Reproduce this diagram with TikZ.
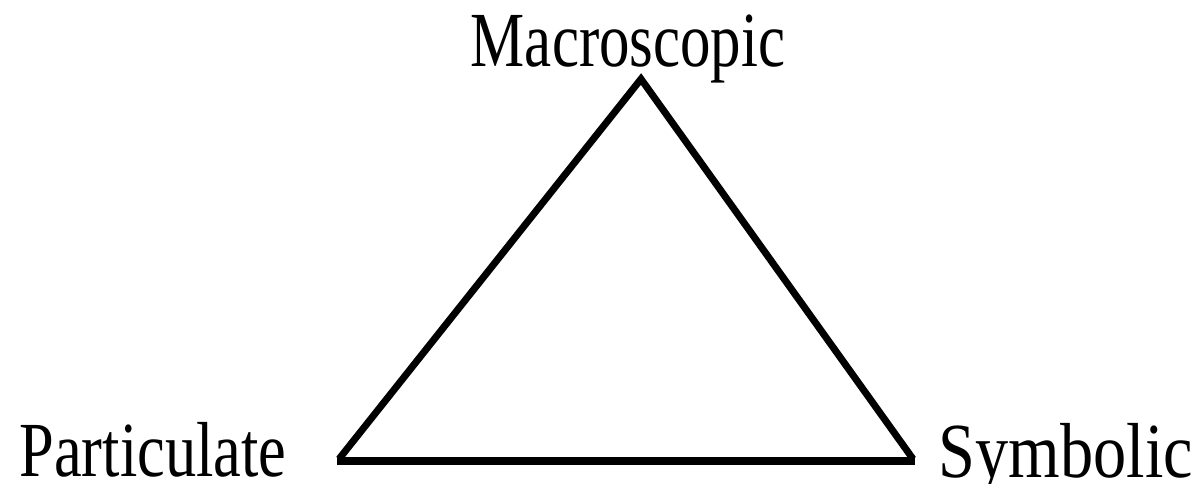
\documentclass[tikz,border=0pt]{standalone}
\usepackage{fontspec}
\setmainfont{Liberation Serif}
\begin{document}
\begin{tikzpicture}[x=1pt,y=-1pt,
  lbl/.style={anchor=base, inner sep=0pt, font=\fontsize{78}{94}\selectfont},
  side/.style={line width=7pt, miter limit=10},
  base/.style={line width=8pt}]
\useasboundingbox (0,0) rectangle (1191,484);
\coordinate (M) at (641,79);
\coordinate (P) at (339,459);
\coordinate (S) at (913,459);
\coordinate (Pb) at (337,461);
\coordinate (Sb) at (915,461);
\draw[side] (P) -- (M) -- (S);
\draw[base] (Pb) -- (Sb);
\node[lbl, xscale=0.78] (mac) at (628,67) {Macroscopic};
\node[lbl, xscale=0.8] (par) at (153,476) {Particulate};
\node[lbl, xscale=0.85] (sym) at (1066,477) {Symbolic};
\end{tikzpicture}
\end{document}
